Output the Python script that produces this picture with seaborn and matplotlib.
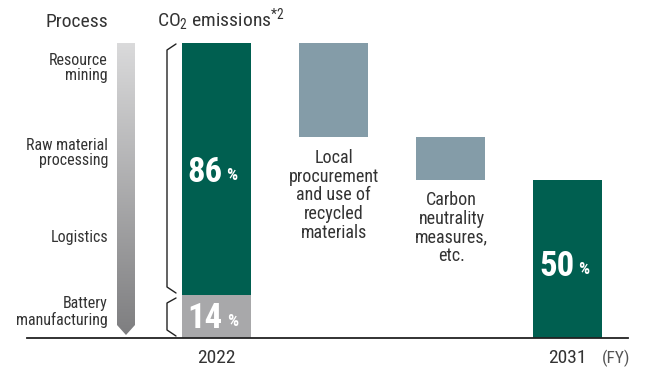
import numpy as np
import pandas as pd
import matplotlib
matplotlib.use("Agg")
import matplotlib.pyplot as plt
import seaborn as sns
from matplotlib.patches import Polygon
from matplotlib import font_manager

# data (bar heights as drawn, labels as printed)
steps = ["2022", "Local procurement", "Carbon neutrality", "2031"]
battery_2022 = 14.5
upstream_2022 = 85.5
reductions = [32.0, 14.5]
total_2031 = 53.5
share_labels = ["86", "14", "50"]
process_labels = ["Resource\nmining", "Raw material\nprocessing", "Logistics", "Battery\nmanufacturing"]
step_texts = ["Local\nprocurement\nand use of\nrecycled\nmaterials", "Carbon\nneutrality\nmeasures,\netc."]

GREEN = "#005f50"
STEEL = "#849ca8"
GRAY = "#a8a8aa"
TXT = "#333333"

# condensed sans, like the original artwork
available = {f.name for f in font_manager.fontManager.ttflist}
font = next((n for n in ["Roboto Condensed", "Archivo Narrow", "Pragati Narrow",
                         "Sofia Sans Condensed", "Liberation Sans Narrow"] if n in available),
            "Liberation Sans")

sns.set_style("white")
plt.rcParams["font.family"] = [font, "DejaVu Sans"]
plt.rcParams["mathtext.fontset"] = "custom"
plt.rcParams["mathtext.rm"] = font

W, H = 646, 369
fig = plt.figure(figsize=(W / 100, H / 100), dpi=100)

# pixel -> axes mapping: bar centres every 117 px starting at 216.5, baseline at y=338, 100% = 295 px
ax = fig.add_axes([27 / W, (H - 338) / H, 601 / W, 338 / H])
ax.patch.set_visible(False)

start = battery_2022 + upstream_2022
red_bottoms = []
level = start
for r in reductions:
    level -= r
    red_bottoms.append(level)

df = pd.DataFrame({"step": steps,
                   "base": [battery_2022, 0, 0, total_2031]})
sns.barplot(data=df, x="step", y="base", hue="step",
            palette=[GRAY, STEEL, STEEL, GREEN], saturation=1,
            width=0.59, linewidth=0, legend=False, ax=ax)

ax.bar([0, 1, 2], [upstream_2022] + reductions,
       bottom=[battery_2022] + red_bottoms,
       color=[GREEN, STEEL, STEEL], width=0.59, linewidth=0)

ax.set_xlim((27 - 216.5) / 117, (628 - 216.5) / 117)
ax.set_ylim(0, 338 / 2.95)
ax.set_xlabel("")
ax.set_ylabel("")
ax.set_xticks([])
ax.set_yticks([])
for s in ["top", "left", "right"]:
    ax.spines[s].set_visible(False)
ax.spines["bottom"].set_color("#222222")
ax.spines["bottom"].set_linewidth(1.3)


def share(x, y, num, dx):
    ax.annotate(num, (x, y), xytext=(dx, 0), textcoords="offset points",
                ha="right", va="center", color="white", fontsize=25, fontweight="bold")
    ax.annotate("%", (x, y), xytext=(dx + 3, -2.5), textcoords="offset points",
                ha="left", va="center", color="white", fontsize=12.5, fontweight="bold")


share(0, battery_2022 + upstream_2022 / 2 - 1, share_labels[0], 4)
share(0, battery_2022 / 2 - 0.5, share_labels[1], 4.5)
share(3, total_2031 / 2 - 2.5, share_labels[2], 5)

# overlay in pixel coordinates for decorations
ov = fig.add_axes([0, 0, 1, 1], zorder=3)
ov.axis("off")

# gradient process arrow
grad = np.linspace(0, 1, 256).reshape(-1, 1)
cmap = matplotlib.colors.LinearSegmentedColormap.from_list("g", ["#dadadb", "#7e7e80"])
im = ov.imshow(grad, cmap=cmap, extent=[117, 135, 335, 43], aspect="auto")
arrow = Polygon([[117, 43], [135, 43], [135, 325], [126, 335], [117, 325]],
                closed=True, transform=ov.transData, facecolor="none", edgecolor="none")
ov.add_patch(arrow)
im.set_clip_path(arrow)
ov.set_xlim(0, W)
ov.set_ylim(H, 0)

# brackets
bk = dict(color="#222222", lw=1.0)
ov.plot([176, 167, 167, 176], [44, 50, 287, 293], **bk)
ov.plot([176, 167, 167, 176], [298, 303, 330, 336], **bk)

fig.text(108 / W, 1 - 22 / H, "Process", ha="right", va="center", fontsize=14, color=TXT)
fig.text(157 / W, 1 - 20 / H, r"CO$\mathregular{_2}$ emissions$\mathregular{^{*2}}$",
         ha="left", va="center", fontsize=14, color=TXT)

for lab, yc in zip(process_labels, [68, 153, 237, 312]):
    fig.text(108 / W, 1 - yc / H, lab, ha="right", va="center", fontsize=11.5,
             color=TXT, linespacing=1.0)

for lab, xc, ytop in zip(step_texts, [333.5, 451.5], [149, 191]):
    fig.text(xc / W, 1 - ytop / H, lab, ha="center", va="top", fontsize=13,
             color=TXT, linespacing=1.05)

fig.text(216.5 / W, 1 - 358 / H, steps[0], ha="center", va="center", fontsize=14, color=TXT)
fig.text(567 / W, 1 - 358 / H, steps[3], ha="center", va="center", fontsize=14, color=TXT)
fig.text(616 / W, 1 - 358 / H, "(FY)", ha="center", va="center", fontsize=12.5, color="#555555")

fig.savefig("out.png", dpi=100)
